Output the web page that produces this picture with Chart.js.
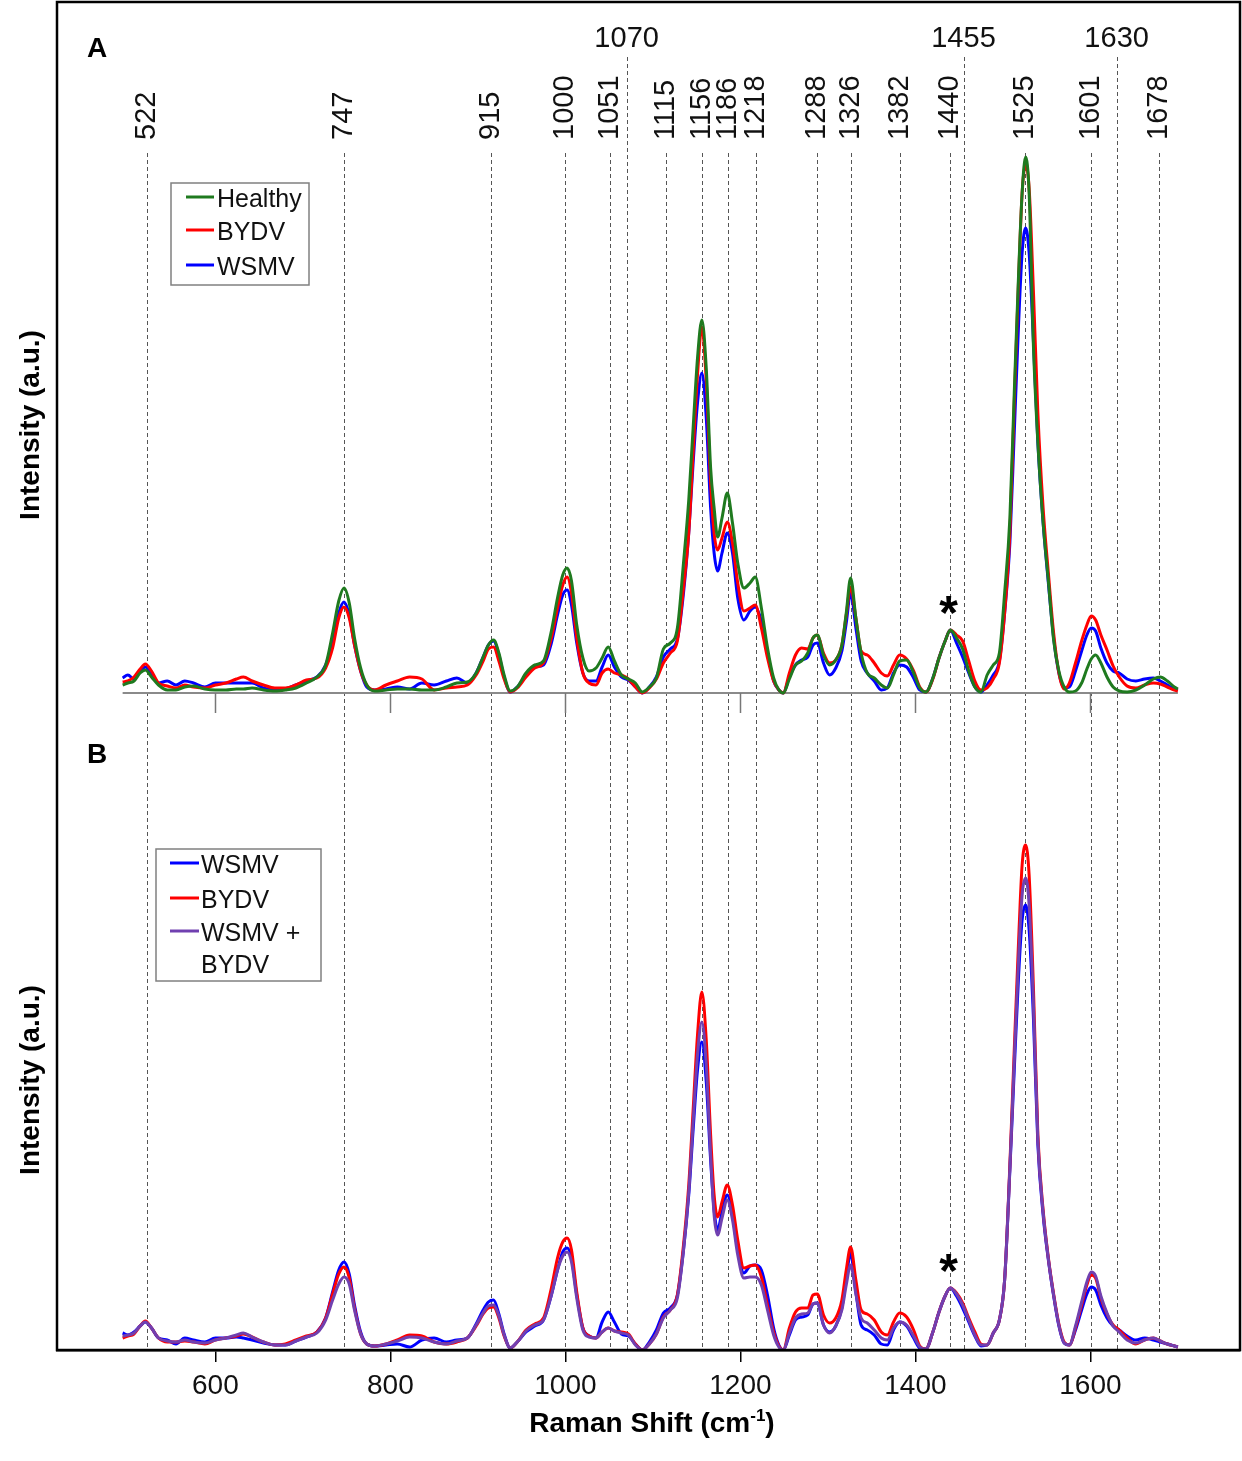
<!DOCTYPE html>
<html><head><meta charset="utf-8">
<script src="https://cdn.jsdelivr.net/npm/chart.js@4.4.1/dist/chart.umd.min.js"></script>
<style>html,body{margin:0;padding:0;background:#fff}#wrap{position:relative;width:1242px;height:1461px;background:#fff}canvas{display:block}</style>
</head><body><div id="wrap"><canvas id="c" width="1242" height="1461"></canvas></div>
<script>
// ---------- DATA ----------
const wavenumbers = [
494,500,507,514,520,527,535,545,555,565,575,588,600,612,624,632,642,655,668,680,692,704,716,726,734,741,
747,753,759,766,773,782,795,808,822,836,850,864,876,888,898,
906,912,918,924,930,937,945,955,965,975,984,991,997,1002,1007,1013,1020,1027,1035,1042,1049,1056,1064,1072,1080,1088,1096,
1104,1112,1120,1128,1135,1141,1146,1151,1156,1161,1166,1170,1174,1179,1185,1191,1197,1204,1211,1217,1224,1231,1238,1244,1249,
1256,1263,1270,1277,1283,1288,1295,1302,1309,1316,1321,1326,1332,1338,1345,1353,1361,1368,1375,1382,1390,1398,1405,1412,1420,1427,1434,1440,1447,1454,1461,1468,1475,
1482,1489,1496,1502,1508,1513,1518,1522,1526,1530,1535,1540,1546,1552,1558,1564,1570,1576,1583,1590,1596,1601,1606,1612,1619,1626,1633,1642,1652,1662,1672,1680,1688,1696,1700];

// Panel A
const healthyA = [
8,10,12,20,23,16,8,3,3,6,7,4,3,3,4,4,5,3,2,3,5,10,16,28,60,92,
105,90,55,25,8,2,3,4,4,3,3,6,10,11,20,
36,48,53,40,18,2,6,20,28,32,62,95,118,125,112,68,35,22,25,35,46,32,18,14,10,1,6,
15,44,50,65,130,193,265,335,373,325,225,185,156,175,200,170,130,105,110,116,85,45,15,3,0,
14,28,32,40,55,58,38,28,33,48,80,115,75,40,20,15,8,5,18,32,33,20,5,1,15,35,52,63,55,44,22,6,1,
18,28,40,100,175,300,420,500,536,500,345,250,170,112,53,22,6,1,2,10,24,34,38,30,16,6,2,1,3,8,14,16,12,6,4];
const bydvA = [
11,12,16,24,29,22,10,7,5,8,6,5,8,10,14,16,12,8,5,5,8,13,15,25,45,75,
86,75,48,22,8,3,8,12,16,14,3,5,6,8,18,
32,44,46,32,14,1,5,16,25,30,55,85,108,116,100,55,20,10,8,20,24,20,18,14,6,0,5,
14,30,40,52,105,160,240,318,366,312,210,160,143,155,171,150,110,82,85,88,65,35,12,3,0,
20,38,45,44,55,58,40,30,33,48,78,106,75,42,38,30,20,17,28,38,34,22,6,1,14,35,52,63,58,52,32,12,3,
5,14,30,80,160,290,415,500,528,505,400,280,185,120,60,20,4,10,30,52,68,77,73,58,43,27,16,7,5,8,10,9,6,3,2];
const wsmvA = [
15,18,14,22,26,20,10,12,8,12,10,6,10,10,10,10,10,5,3,4,8,12,16,28,52,80,
91,78,48,22,6,3,4,6,4,10,8,12,15,10,20,
36,48,52,38,16,1,6,18,26,28,50,78,98,103,88,50,20,12,12,26,38,26,16,13,6,0,6,
16,36,44,54,100,160,230,290,320,275,185,140,122,140,160,140,95,73,82,86,72,40,12,3,0,
16,28,33,36,48,50,30,18,25,42,70,100,65,32,20,12,3,5,20,28,26,15,3,1,15,35,52,63,50,36,20,6,1,
8,18,32,80,150,260,370,440,465,440,350,250,170,110,55,20,5,6,22,42,58,65,62,45,30,22,20,14,12,14,15,12,8,4,3];

// Panel B
const wsmvB = [
17,15,18,24,28,22,12,10,6,12,10,8,12,12,13,12,10,7,5,5,9,13,18,32,58,80,
88,76,45,18,6,4,5,6,3,10,12,8,10,12,26,
40,48,50,36,16,2,8,18,24,30,55,80,98,102,92,55,22,14,12,28,38,28,16,14,6,0,8,
20,37,42,55,100,155,220,280,308,268,190,140,120,138,155,135,100,77,84,85,80,55,22,5,0,
15,30,33,35,46,47,25,18,24,42,72,97,58,25,20,15,6,5,20,28,24,12,2,1,18,38,54,62,54,42,28,14,4,
5,17,30,70,180,280,375,430,445,420,330,205,135,90,54,24,7,5,20,40,56,63,60,45,32,24,20,14,10,12,10,8,6,4,3];
const bydvB = [
12,14,16,24,29,22,12,8,8,9,8,6,10,12,14,16,13,8,5,6,10,14,18,32,56,76,
83,72,42,16,6,4,6,10,15,14,8,6,8,12,24,
36,42,43,32,14,2,8,20,26,32,62,92,108,112,100,58,22,14,12,18,22,19,18,16,6,0,6,
16,33,40,55,105,165,240,315,358,310,215,155,133,148,165,145,110,82,84,85,73,45,18,4,0,
22,38,42,42,55,56,35,27,32,50,80,103,70,40,36,30,18,15,28,37,33,20,4,1,18,38,54,62,57,47,32,18,6,
5,17,30,70,185,300,410,485,505,475,360,215,140,92,56,26,8,5,22,45,65,75,72,52,36,25,20,12,6,10,12,9,6,4,3];
const mixB = [
14,15,17,24,28,22,12,9,8,10,8,7,10,12,15,17,13,8,5,5,9,13,17,30,50,66,
73,66,40,16,6,4,6,9,13,12,8,6,9,12,25,
37,44,45,34,15,2,8,19,25,30,55,80,94,98,88,52,20,13,12,18,22,19,17,15,5,0,6,
16,32,40,52,100,158,228,295,328,285,195,135,115,132,150,130,95,72,73,73,65,40,15,3,0,
17,32,36,37,46,47,25,17,24,40,65,85,56,32,27,20,12,10,22,28,25,14,3,1,18,38,54,62,56,45,30,15,5,
5,17,30,70,182,290,392,455,472,445,345,210,138,91,55,25,7,5,24,48,68,78,74,54,37,24,18,10,7,10,12,9,6,4,3];

const peakLabelsRotated = [522,747,915,1000,1051,1115,1156,1186,1218,1288,1326,1382,1440,1525,1601,1678];
const peakLabelsTop = [1070,1455,1630];
const xTicks = [600,800,1000,1200,1400,1600];
const legendA = ['Healthy','BYDV','WSMV'];
const legendB = ['WSMV','BYDV','WSMV +','BYDV'];
const starPeak = 1438;

// ---------- CHART ----------
const FONT = "'Liberation Sans', Arial, Helvetica, sans-serif";
const GREEN = '#1f7a1f', RED = '#ff0000', BLUE = '#0000ff', PURPLE = '#7040b0';

function series(label, vals, color, axis) {
  return {
    label, yAxisID: axis, borderColor: color, backgroundColor: color,
    data: vals.map((v, i) => ({x: wavenumbers[i], y: v})),
    borderWidth: 3, pointRadius: 0, fill: false,
    cubicInterpolationMode: 'monotone'
  };
}

function sup(ctx, parts, cx, baseY) {
  let w = 0;
  parts.forEach(p => { ctx.font = p.font; w += ctx.measureText(p.text).width; });
  let x = cx - w / 2;
  parts.forEach(p => {
    ctx.font = p.font; ctx.textAlign = 'left'; ctx.textBaseline = 'alphabetic';
    ctx.fillText(p.text, x, baseY + (p.dy || 0));
    x += ctx.measureText(p.text).width;
  });
}

function drawLegend(ctx, box, rows) {
  ctx.save();
  ctx.fillStyle = '#fff';
  ctx.fillRect(box.x, box.y, box.w, box.h);
  ctx.strokeStyle = '#808080'; ctx.lineWidth = 1.5;
  ctx.strokeRect(box.x, box.y, box.w, box.h);
  ctx.font = '25px ' + FONT; ctx.fillStyle = '#111';
  ctx.textAlign = 'left'; ctx.textBaseline = 'alphabetic';
  rows.forEach(r => {
    if (r.color) {
      ctx.strokeStyle = r.color; ctx.lineWidth = 3;
      ctx.beginPath(); ctx.moveTo(box.lx0, r.y); ctx.lineTo(box.lx1, r.y); ctx.stroke();
    }
    ctx.fillText(r.label, box.tx, r.y + 9.5);
  });
  ctx.restore();
}

const decor = {
  id: 'decor',
  beforeDatasetsDraw(chart) {
    const {ctx, chartArea: ca, scales: {x, yA}} = chart;
    ctx.save();
    ctx.strokeStyle = '#555'; ctx.lineWidth = 1; ctx.setLineDash([4, 3]);
    const all = peakLabelsRotated.map(v => [v, 153]).concat(peakLabelsTop.map(v => [v, 57]));
    all.forEach(([v, top]) => {
      const px = Math.round(x.getPixelForValue(v)) + 0.5;
      ctx.beginPath(); ctx.moveTo(px, top); ctx.lineTo(px, ca.bottom); ctx.stroke();
    });
    ctx.setLineDash([]);
    const y0 = yA.getPixelForValue(0);
    ctx.strokeStyle = '#8a8a8a'; ctx.lineWidth = 2;
    ctx.beginPath();
    ctx.moveTo(x.getPixelForValue(wavenumbers[0]), y0);
    ctx.lineTo(x.getPixelForValue(wavenumbers[wavenumbers.length - 1]), y0);
    ctx.stroke();
    ctx.lineWidth = 1.5; ctx.strokeStyle = '#777';
    xTicks.forEach(v => {
      const px = Math.round(x.getPixelForValue(v)) + 0.5;
      ctx.beginPath(); ctx.moveTo(px, y0); ctx.lineTo(px, y0 + 20); ctx.stroke();
    });
    ctx.restore();
  },
  afterDraw(chart) {
    const {ctx, chartArea: ca, scales: {x, yA, yB}} = chart;
    ctx.save();
    ctx.strokeStyle = '#000'; ctx.lineWidth = 2.5;
    ctx.strokeRect(ca.left, ca.top, ca.right - ca.left, ca.bottom - ca.top);
    ctx.fillStyle = '#111';
    ctx.font = '29px ' + FONT;
    peakLabelsRotated.forEach(v => {
      ctx.save();
      ctx.translate(x.getPixelForValue(v), 140);
      ctx.rotate(-Math.PI / 2);
      ctx.textAlign = 'left'; ctx.textBaseline = 'middle';
      ctx.fillText(String(v), 0, 0);
      ctx.restore();
    });
    ctx.textAlign = 'center'; ctx.textBaseline = 'alphabetic';
    peakLabelsTop.forEach(v => ctx.fillText(String(v), x.getPixelForValue(v), 47));
    ctx.fillStyle = '#000';
    ctx.font = 'bold 28px ' + FONT; ctx.textAlign = 'left';
    ctx.fillText('A', 87, 57);
    ctx.fillText('B', 87, 763);
    ctx.font = 'bold 48px ' + FONT; ctx.textAlign = 'center'; ctx.textBaseline = 'middle';
    ctx.fillText('*', x.getPixelForValue(starPeak), yA.getPixelForValue(88) + 11);
    ctx.fillText('*', x.getPixelForValue(starPeak), yB.getPixelForValue(87) + 11);
    ctx.font = 'bold 28px ' + FONT;
    [425, 1080].forEach(cy => {
      ctx.save(); ctx.translate(31, cy); ctx.rotate(-Math.PI / 2);
      ctx.textAlign = 'center'; ctx.textBaseline = 'middle';
      ctx.fillText('Intensity (a.u.)', 0, 0);
      ctx.restore();
    });
    sup(ctx, [
      {text: 'Raman Shift (cm', font: 'bold 28px ' + FONT},
      {text: '-1', font: 'bold 17px ' + FONT, dy: -11},
      {text: ')', font: 'bold 28px ' + FONT}
    ], 652, 1432);
    drawLegend(ctx, {x: 171, y: 183, w: 138, h: 102, lx0: 186, lx1: 214, tx: 217}, [
      {label: legendA[0], color: GREEN, y: 197},
      {label: legendA[1], color: RED, y: 230},
      {label: legendA[2], color: BLUE, y: 265}
    ]);
    drawLegend(ctx, {x: 156, y: 849, w: 165, h: 132, lx0: 170, lx1: 199, tx: 201}, [
      {label: legendB[0], color: BLUE, y: 863},
      {label: legendB[1], color: RED, y: 898},
      {label: legendB[2], color: PURPLE, y: 931},
      {label: legendB[3], color: null, y: 963}
    ]);
    ctx.restore();
  }
};

new Chart(document.getElementById('c'), {
  type: 'line',
  data: {
    datasets: [
      series('Healthy', healthyA, GREEN, 'yA'),
      series('BYDV', bydvA, RED, 'yA'),
      series('WSMV', wsmvA, BLUE, 'yA'),
      series('WSMV + BYDV', mixB, PURPLE, 'yB'),
      series('BYDV', bydvB, RED, 'yB'),
      series('WSMV', wsmvB, BLUE, 'yB')
    ]
  },
  options: {
    responsive: false, animation: false, devicePixelRatio: 1,
    layout: {padding: {top: 2, right: 2, left: 0, bottom: 0}},
    plugins: {legend: {display: false}, tooltip: {enabled: false}},
    scales: {
      x: {
        type: 'linear', position: 'bottom', min: 419, max: 1771,
        afterBuildTicks: s => { s.ticks = xTicks.map(v => ({value: v})); },
        afterFit: s => { s.height = 111; },
        grid: {drawOnChartArea: false, drawTicks: true, tickLength: 12, color: '#000', lineWidth: 1.5},
        border: {display: true, color: '#000', width: 2.5},
        ticks: {font: {family: FONT, size: 28}, color: '#111', padding: 7, maxRotation: 0, autoSkip: false,
                callback: v => String(v)}
      },
      // left boxes are placed in reverse definition order, so the bottom panel is listed first
      yB: {
        type: 'linear', position: 'left', stack: 'panels', stackWeight: 637,
        min: 0, max: 637,
        afterFit: s => { s.width = 57; },
        ticks: {display: false}, grid: {display: false}, border: {display: false}
      },
      yA: {
        type: 'linear', position: 'left', stack: 'panels', stackWeight: 711,
        min: -20, max: 691,
        afterFit: s => { s.width = 57; },
        ticks: {display: false}, grid: {display: false}, border: {display: false}
      }
    }
  },
  plugins: [decor]
});
</script>
</body></html>
